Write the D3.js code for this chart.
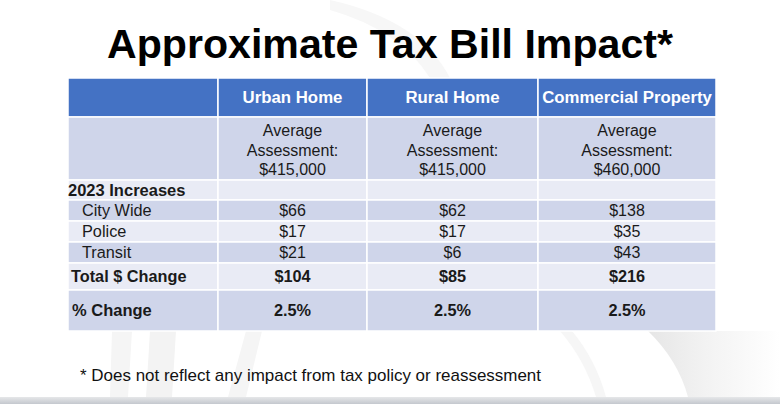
<!DOCTYPE html>
<html><head><meta charset="utf-8">
<script src="https://cdn.jsdelivr.net/npm/d3@7"></script>
<style>html,body{margin:0;padding:0;background:#fff;overflow:hidden}</style>
</head><body><svg id="c" width="780" height="404"></svg>
<script>
// ---- data ----
const title = "Approximate Tax Bill Impact*";
const footnote = "* Does not reflect any impact from tax policy or reassessment";
const categories = ["Urban Home", "Rural Home", "Commercial Property"];
const assessments = ["$415,000", "$415,000", "$460,000"];
const rowLabels = ["City Wide", "Police", "Transit"];
const urbanValues = [66, 17, 21];
const ruralValues = [62, 17, 6];
const commercialValues = [138, 35, 43];
const totals = [104, 85, 216];
const pctChange = [2.5, 2.5, 2.5];

// ---- layout ----
const svg = d3.select("#c");
const W = 780, H = 404;
const colEdges = [68, 218, 367, 538, 716];
const rowEdges = [78, 117, 180, 200, 221, 242, 263, 290, 331];
const rowFill = ["#4472c4", "#cfd5ea", "#e9ebf5", "#cfd5ea", "#e9ebf5", "#cfd5ea", "#e9ebf5", "#cfd5ea"];
const font = "'Liberation Sans', Arial, Helvetica, sans-serif";

// background decoration
const defs = svg.append("defs");
const grad = defs.append("linearGradient").attr("id","bb").attr("x1",0).attr("x2",0).attr("y1",0).attr("y2",1);
grad.append("stop").attr("offset",0).attr("stop-color","#e6e7e9");
grad.append("stop").attr("offset",1).attr("stop-color","#c4c8ce");
const g2 = defs.append("linearGradient").attr("id","arc").attr("x1",0).attr("x2",1).attr("y1",0).attr("y2",0);
g2.append("stop").attr("offset",0).attr("stop-color","#e6e6e6");
g2.append("stop").attr("offset",0.5).attr("stop-color","#f4f4f4");
g2.append("stop").attr("offset",1).attr("stop-color","#ffffff");
const bg = svg.append("g");
bg.append("path").attr("d","M648,331 Q678,360 688,397 L780,397 L780,331 Z").attr("fill","url(#arc)");
bg.append("path").attr("d","M560,331 Q585,360 596,397 L606,397 Q596,360 572,331 Z").attr("fill","#f6f6f6");
bg.append("path").attr("d","M112,331 L110,397 L128,397 L132,331 Z").attr("fill","#f5f5f5");
bg.append("path").attr("d","M150,331 L146,397 L172,397 L176,331 Z").attr("fill","#f3f3f3");
bg.append("path").attr("d","M246,331 L228,397 L246,397 L262,331 Z").attr("fill","#f5f5f5");
bg.append("path").attr("d","M330,0 Q420,20 450,78 L430,78 Q400,30 330,10 Z").attr("fill","#f7f7f7");
bg.append("rect").attr("x",0).attr("y",397).attr("width",W).attr("height",7).attr("fill","url(#bb)");

// scales
const cols = ["label", ...categories];
const xCol = d3.scaleOrdinal().domain(cols).range(colEdges.slice(0,4));
const colW = d3.scaleOrdinal().domain(cols).range(d3.pairs(colEdges).map(p => p[1]-p[0]));
const yRow = d3.scaleOrdinal().domain(d3.range(8)).range(rowEdges.slice(0,8));
const rowH = d3.scaleOrdinal().domain(d3.range(8)).range(d3.pairs(rowEdges).map(p => p[1]-p[0]));

// title
svg.append("text").attr("x", 390).attr("y", 58).attr("text-anchor","middle")
  .attr("font-family", font).attr("font-weight","bold").attr("font-size", 41)
  .attr("fill","#000").attr("textLength", 566).attr("lengthAdjust","spacingAndGlyphs").text(title);

// cells
const tbl = svg.append("g");
d3.range(8).forEach(r => {
  cols.forEach(c => {
    tbl.append("rect").attr("x", xCol(c)).attr("y", yRow(r)).attr("width", colW(c)).attr("height", rowH(r))
      .attr("fill", rowFill[r]).attr("stroke","#ffffff").attr("stroke-width",1.5);
  });
});

const cx = c => xCol(c) + colW(c)/2;
const cy = r => yRow(r) + rowH(r)/2;
function txt(x, y, s, opts={}) {
  return tbl.append("text").attr("x", x).attr("y", y).attr("dy","0.35em")
    .attr("text-anchor", opts.anchor || "middle").attr("font-family", font)
    .attr("font-weight", opts.bold ? "bold" : "normal").attr("font-size", opts.size || 16)
    .attr("fill", opts.fill || "#1a1a1a").text(s);
}

// header
categories.forEach(c => txt(cx(c), cy(0), c, {bold:true, fill:"#ffffff", size:16.8}));
// assessment row
categories.forEach((c,i) => {
  txt(cx(c), 130.5, "Average");
  txt(cx(c), 150, assessments[i] ? "Assessment:" : "");
  txt(cx(c), 169.5, assessments[i]);
});
// 2023 increases
txt(68, cy(2), "2023 Increases", {anchor:"start", bold:true, size:16.5});
const series = [urbanValues, ruralValues, commercialValues];
rowLabels.forEach((lab, k) => {
  const r = 3 + k;
  txt(82, cy(r), lab, {anchor:"start", size:16.3});
  categories.forEach((c,i) => txt(cx(c), cy(r), "$" + series[i][k]));
});
txt(71, cy(6), "Total $ Change", {anchor:"start", bold:true, size:16.3});
categories.forEach((c,i) => txt(cx(c), cy(6), "$" + totals[i], {bold:true, size:16.3}));
txt(72, cy(7), "% Change", {anchor:"start", bold:true, size:16.5});
categories.forEach((c,i) => txt(cx(c), cy(7), d3.format(".1f")(pctChange[i]) + "%", {bold:true, size:16.3}));

// footnote
svg.append("text").attr("x", 80).attr("y", 381).attr("font-family", font).attr("font-size", 17)
  .attr("fill","#111").attr("textLength", 461).attr("lengthAdjust","spacingAndGlyphs").text(footnote);
</script></body></html>
